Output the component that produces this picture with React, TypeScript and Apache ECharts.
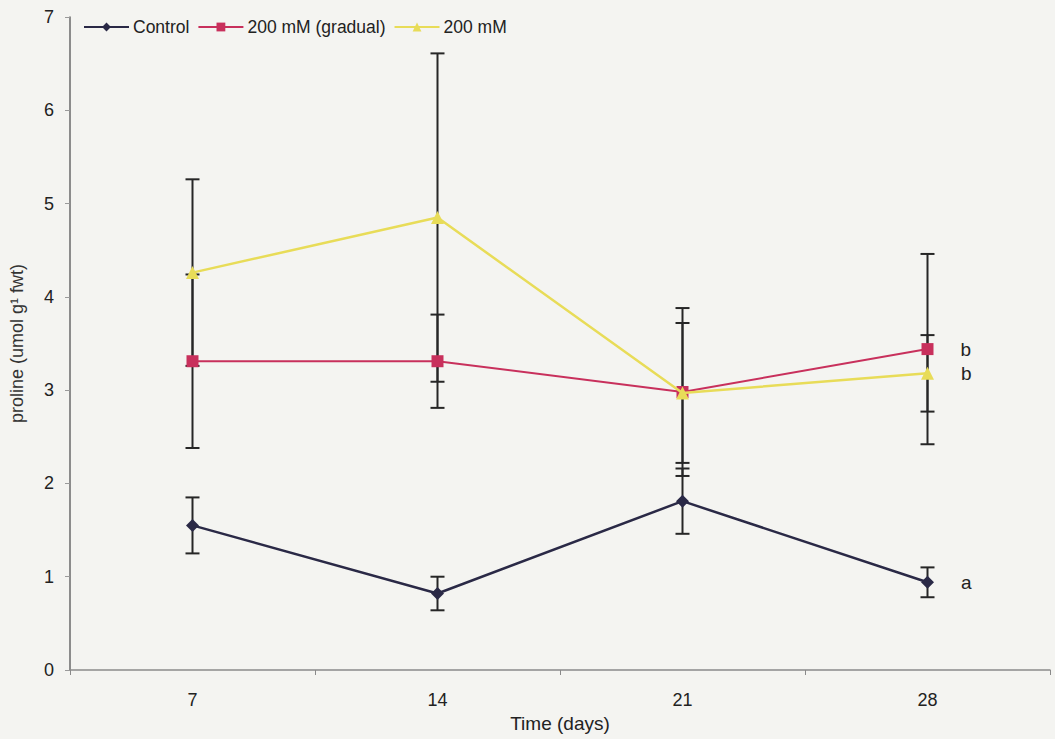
import React, { useEffect, useRef } from "react";
import * as echarts from "echarts";

// Sampling days
const days = ["7", "14", "21", "28"];

// Proline content (umol g-1 fwt), means and standard errors
const controlMean = [1.55, 0.82, 1.81, 0.94];
const controlErr = [0.3, 0.18, 0.35, 0.16];
const gradualMean = [3.31, 3.31, 2.98, 3.44];
const gradualErr = [0.93, 0.5, 0.9, 1.02];
const directMean = [4.26, 4.85, 2.97, 3.18];
const directErr = [1.0, 1.76, 0.75, 0.41];

// Significance letters at the final harvest
const letterControl = "a";
const letterGradual = "b";
const letterDirect = "b";

const FONT = "'Liberation Sans', Arial, sans-serif";

const COLOR_CONTROL = "#2a2946";
const COLOR_GRADUAL = "#c8305c";
const COLOR_DIRECT = "#e8dc58";

function errorData(mean: number[], err: number[]) {
  return mean.map((m, i) => [i, m - err[i], m + err[i]]);
}

function lineData(mean: number[], letter: string) {
  return mean.map((m, i) =>
    i === mean.length - 1
      ? {
          value: m,
          label: {
            show: true,
            formatter: letter,
            position: "right",
            distance: 27,
            color: "#222",
            fontFamily: FONT,
            fontSize: 19,
          },
        }
      : m
  );
}

const renderErrorBar = (params: any, api: any) => {
  const x = api.value(0);
  const lo = api.coord([x, api.value(1)]);
  const hi = api.coord([x, api.value(2)]);
  const half = 7;
  const style = { stroke: "#262626", lineWidth: 2 };
  return {
    type: "group",
    children: [
      { type: "line", shape: { x1: lo[0], y1: lo[1], x2: hi[0], y2: hi[1] }, style },
      { type: "line", shape: { x1: lo[0] - half, y1: lo[1], x2: lo[0] + half, y2: lo[1] }, style },
      { type: "line", shape: { x1: hi[0] - half, y1: hi[1], x2: hi[0] + half, y2: hi[1] }, style },
    ],
  };
};

export default function App() {
  const ref = useRef<HTMLDivElement>(null);

  useEffect(() => {
    if (!ref.current) return;
    const chart = echarts.init(ref.current, undefined, { renderer: "svg" });
    chart.setOption({
      animation: false,
      backgroundColor: "#f4f4f1",
      textStyle: { fontFamily: FONT },
      grid: { left: 70, right: 5, top: 17, bottom: 69, containLabel: false },
      legend: {
        left: 83,
        top: 18,
        itemWidth: 45,
        itemHeight: 11,
        itemGap: 8,
        padding: 0,
        textStyle: { fontFamily: FONT, fontSize: 17.5, color: "#222", padding: [0, 0, 0, -1] },
        data: ["Control", "200 mM (gradual)", "200 mM"],
      },
      xAxis: {
        type: "category",
        data: days,
        boundaryGap: true,
        name: "Time (days)",
        nameLocation: "middle",
        nameGap: 42,
        nameTextStyle: { fontFamily: FONT, fontSize: 19, color: "#222" },
        axisLine: { lineStyle: { color: "#8a8a8a", width: 1.5 } },
        axisTick: { show: true, length: 5, lineStyle: { color: "#8a8a8a" } },
        axisLabel: { fontFamily: FONT, fontSize: 18, color: "#222", margin: 21 },
        splitLine: { show: false },
      },
      yAxis: {
        type: "value",
        min: 0,
        max: 7,
        interval: 1,
        name: "proline (umol g¹ fwt)",
        nameLocation: "middle",
        nameGap: 44,
        nameTextStyle: { fontFamily: FONT, fontSize: 18, color: "#333" },
        axisLine: { show: true, lineStyle: { color: "#6a6a6a", width: 1.5 } },
        axisTick: { show: true, length: 5, lineStyle: { color: "#9a9a9a" } },
        axisLabel: { fontFamily: FONT, fontSize: 18, color: "#222", margin: 16 },
        splitLine: { show: false },
      },
      series: [
        {
          type: "custom",
          name: "err-control",
          renderItem: renderErrorBar,
          data: errorData(controlMean, controlErr),
          encode: { x: 0, y: [1, 2] },
          z: 1,
        },
        {
          type: "custom",
          name: "err-gradual",
          renderItem: renderErrorBar,
          data: errorData(gradualMean, gradualErr),
          encode: { x: 0, y: [1, 2] },
          z: 1,
        },
        {
          type: "custom",
          name: "err-direct",
          renderItem: renderErrorBar,
          data: errorData(directMean, directErr),
          encode: { x: 0, y: [1, 2] },
          z: 1,
        },
        {
          type: "line",
          name: "Control",
          data: lineData(controlMean, letterControl),
          symbol: "diamond",
          symbolSize: 13,
          lineStyle: { color: COLOR_CONTROL, width: 2.5 },
          itemStyle: { color: COLOR_CONTROL },
          z: 5,
        },
        {
          type: "line",
          name: "200 mM (gradual)",
          data: lineData(gradualMean, letterGradual),
          symbol: "rect",
          symbolSize: 12,
          lineStyle: { color: COLOR_GRADUAL, width: 2 },
          itemStyle: { color: COLOR_GRADUAL },
          z: 4,
        },
        {
          type: "line",
          name: "200 mM",
          data: lineData(directMean, letterDirect),
          symbol: "triangle",
          symbolSize: 13,
          lineStyle: { color: COLOR_DIRECT, width: 2.5 },
          itemStyle: { color: COLOR_DIRECT },
          z: 6,
        },
      ],
    });
    return () => chart.dispose();
  }, []);

  return (
    <div
      ref={ref}
      style={{ position: "fixed", left: 0, top: 0, width: 1055, height: 739 }}
    />
  );
}
